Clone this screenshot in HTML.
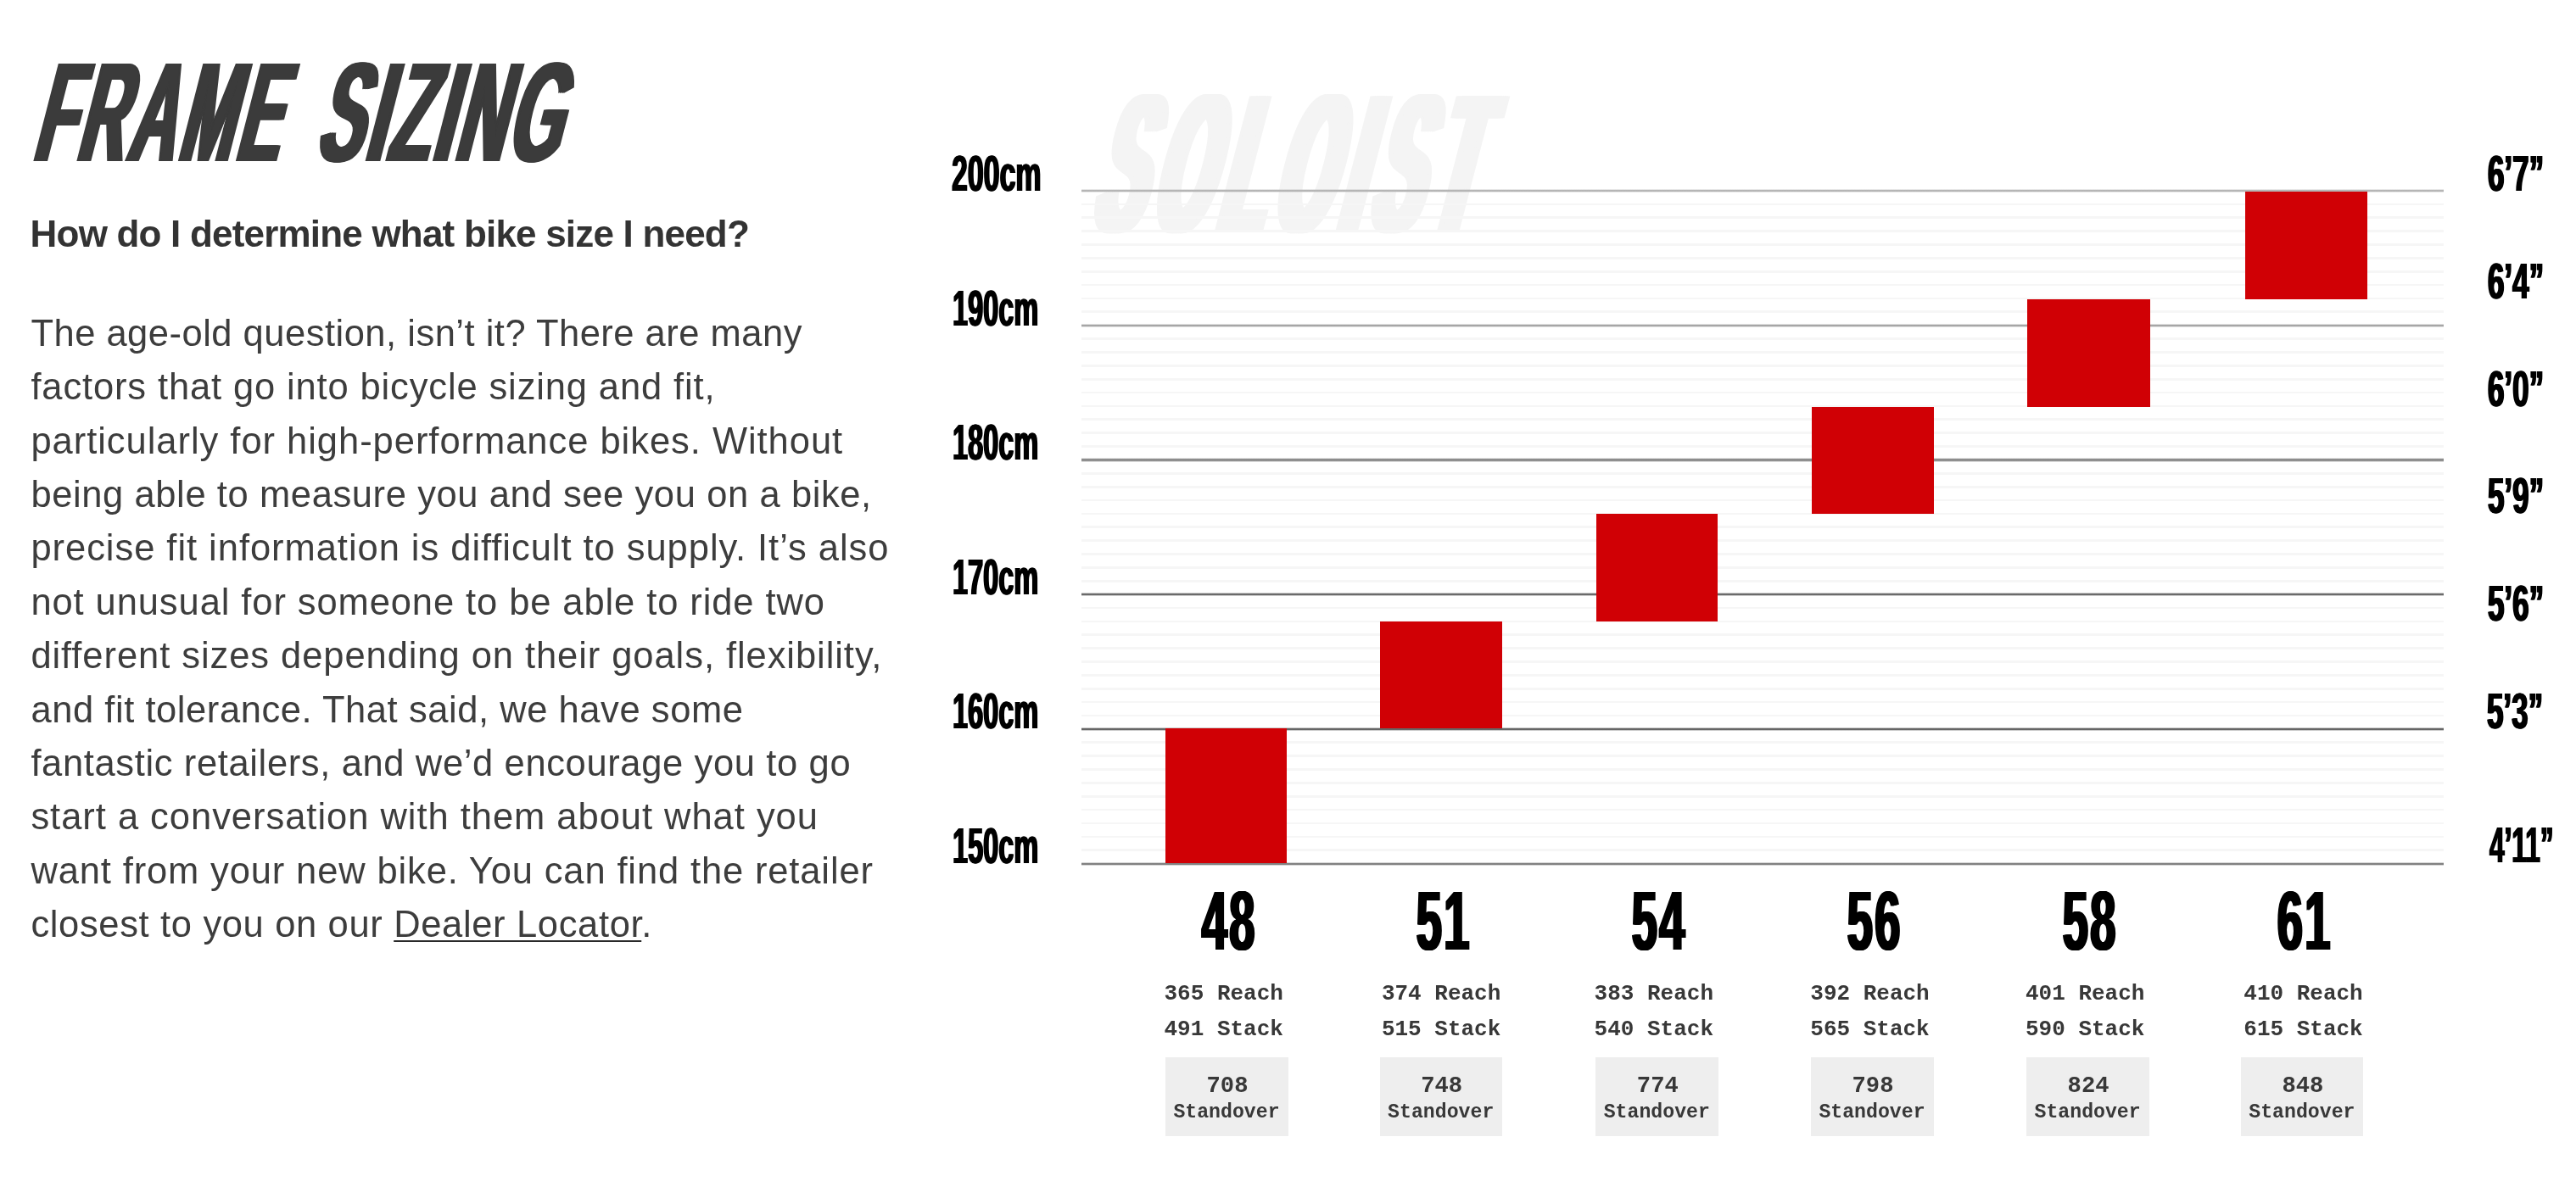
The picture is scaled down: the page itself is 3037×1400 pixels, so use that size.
<!DOCTYPE html>
<html lang="en"><head><meta charset="utf-8"><title>Frame Sizing</title>
<style>
html,body{margin:0;padding:0;background:#fff}
body{width:3037px;height:1400px;position:relative;overflow:hidden;font-family:"Liberation Sans",sans-serif}
.copy h1,.copy p{margin:0;padding:0;font-size:0;font-weight:normal}
.a{position:absolute;white-space:nowrap;line-height:1;margin:0;padding:0;display:block}
.c{font-weight:bold;transform-origin:0 0;color:#000}
.title{color:#3b3b3b}
.sub{font-weight:bold;color:#333}
.pl{color:#3d3d3d}
.pl a{color:inherit;text-decoration:underline;text-decoration-thickness:1.9px;text-underline-offset:4px;text-decoration-color:#2a2a2a}
.maj{position:absolute;left:1275.3px;width:1605.6px;height:4.4px}
.min{position:absolute;left:1275.3px;width:1605.6px;height:2.8px;background:#f6f6f6}
.bar{position:absolute;width:144.4px;height:127px;background:#d00005}
.m{font-family:"Liberation Mono",monospace;font-weight:bold;color:#383838}
.box{position:absolute;width:144.6px;height:93px;background:#eeeeee}
.wm{color:#f4f4f4}
</style></head><body>
<div id="page" style="position:absolute;left:0;top:0;width:3037px;height:1400px;filter:blur(0.65px)">

<section class="copy">
<h1>
<span class="a c title" style="left:36.5px;top:48.6px;font-size:167px;transform-origin:0 84.65%;transform:skewX(-14.4deg) scaleX(0.455);letter-spacing:10.5px;text-shadow:3.2px 0 0 #3b3b3b,-3.2px 0 0 #3b3b3b,6.4px 0 0 #3b3b3b,-6.4px 0 0 #3b3b3b;">FRAME</span>
<span class="a c title" style="left:371.0px;top:48.6px;font-size:167px;transform-origin:0 84.65%;transform:skewX(-14.4deg) scaleX(0.477);letter-spacing:8.8px;text-shadow:3.2px 0 0 #3b3b3b,-3.2px 0 0 #3b3b3b,6.4px 0 0 #3b3b3b,-6.4px 0 0 #3b3b3b;">SIZING</span>
</h1>
<h2 class="a sub" style="left:35.6px;top:254.0px;font-size:44px;letter-spacing:-0.8px">How do I determine what bike size I need?</h2>
<p>
<span class="a pl" style="left:36.4px;top:371.9px;font-size:43.5px;letter-spacing:0.498px">The age-old question, isn’t it? There are many</span>
<span class="a pl" style="left:36.4px;top:435.2px;font-size:43.5px;letter-spacing:0.865px">factors that go into bicycle sizing and fit,</span>
<span class="a pl" style="left:36.4px;top:498.6px;font-size:43.5px;letter-spacing:0.964px">particularly for high-performance bikes. Without</span>
<span class="a pl" style="left:36.4px;top:562.0px;font-size:43.5px;letter-spacing:0.602px">being able to measure you and see you on a bike,</span>
<span class="a pl" style="left:36.4px;top:625.4px;font-size:43.5px;letter-spacing:0.957px">precise fit information is difficult to supply. It’s also</span>
<span class="a pl" style="left:36.4px;top:688.7px;font-size:43.5px;letter-spacing:0.907px">not unusual for someone to be able to ride two</span>
<span class="a pl" style="left:36.4px;top:752.1px;font-size:43.5px;letter-spacing:0.934px">different sizes depending on their goals, flexibility,</span>
<span class="a pl" style="left:36.4px;top:815.5px;font-size:43.5px;letter-spacing:0.561px">and fit tolerance. That said, we have some</span>
<span class="a pl" style="left:36.4px;top:878.8px;font-size:43.5px;letter-spacing:0.633px">fantastic retailers, and we’d encourage you to go</span>
<span class="a pl" style="left:36.4px;top:942.2px;font-size:43.5px;letter-spacing:0.968px">start a conversation with them about what you</span>
<span class="a pl" style="left:36.4px;top:1005.6px;font-size:43.5px;letter-spacing:0.863px">want from your new bike. You can find the retailer</span>
<span class="a pl" style="left:36.4px;top:1068.9px;font-size:43.5px;letter-spacing:0.650px">closest to you on our <a href="#dealer-locator">Dealer Locator</a>.</span>
</p>
</section>
<section class="chart">
<div class="a c wm" style="left:1285.5px;top:76.6px;font-size:232px;transform-origin:0 84.65%;transform:skewX(-14.5deg) scaleX(0.36);letter-spacing:37.0px;color:#f4f4f4;text-shadow:5px 0 0 #f4f4f4,-5px 0 0 #f4f4f4,10px 0 0 #f4f4f4,-10px 0 0 #f4f4f4,15px 0 0 #f4f4f4,-15px 0 0 #f4f4f4,20px 0 0 #f4f4f4,-20px 0 0 #f4f4f4;">SOLOIST</div>
<div class="min" style="top:239.5px"></div>
<div class="min" style="top:255.3px"></div>
<div class="min" style="top:271.2px"></div>
<div class="min" style="top:287.1px"></div>
<div class="min" style="top:303.0px"></div>
<div class="min" style="top:318.8px"></div>
<div class="min" style="top:334.7px"></div>
<div class="min" style="top:350.6px"></div>
<div class="min" style="top:366.4px"></div>
<div class="min" style="top:398.2px"></div>
<div class="min" style="top:414.1px"></div>
<div class="min" style="top:429.9px"></div>
<div class="min" style="top:445.8px"></div>
<div class="min" style="top:461.7px"></div>
<div class="min" style="top:477.6px"></div>
<div class="min" style="top:493.4px"></div>
<div class="min" style="top:509.3px"></div>
<div class="min" style="top:525.2px"></div>
<div class="min" style="top:556.9px"></div>
<div class="min" style="top:572.8px"></div>
<div class="min" style="top:588.7px"></div>
<div class="min" style="top:604.5px"></div>
<div class="min" style="top:620.4px"></div>
<div class="min" style="top:636.3px"></div>
<div class="min" style="top:652.1px"></div>
<div class="min" style="top:668.0px"></div>
<div class="min" style="top:683.9px"></div>
<div class="min" style="top:715.6px"></div>
<div class="min" style="top:731.5px"></div>
<div class="min" style="top:747.4px"></div>
<div class="min" style="top:763.2px"></div>
<div class="min" style="top:779.1px"></div>
<div class="min" style="top:795.0px"></div>
<div class="min" style="top:810.9px"></div>
<div class="min" style="top:826.7px"></div>
<div class="min" style="top:842.6px"></div>
<div class="min" style="top:874.4px"></div>
<div class="min" style="top:890.2px"></div>
<div class="min" style="top:906.1px"></div>
<div class="min" style="top:922.0px"></div>
<div class="min" style="top:937.8px"></div>
<div class="min" style="top:953.7px"></div>
<div class="min" style="top:969.6px"></div>
<div class="min" style="top:985.5px"></div>
<div class="min" style="top:1001.3px"></div>
<div class="maj" style="top:222.9px;background:linear-gradient(to bottom,rgba(181,181,181,0),rgb(181,181,181) 38%,rgb(181,181,181) 62%,rgba(181,181,181,0))"></div>
<div class="maj" style="top:381.7px;background:linear-gradient(to bottom,rgba(165,165,165,0),rgb(165,165,165) 38%,rgb(165,165,165) 62%,rgba(165,165,165,0))"></div>
<div class="maj" style="top:540.3px;background:linear-gradient(to bottom,rgba(126,126,126,0),rgb(126,126,126) 38%,rgb(126,126,126) 62%,rgba(126,126,126,0))"></div>
<div class="maj" style="top:699.1px;background:linear-gradient(to bottom,rgba(105,105,105,0),rgb(105,105,105) 38%,rgb(105,105,105) 62%,rgba(105,105,105,0))"></div>
<div class="maj" style="top:857.6px;background:linear-gradient(to bottom,rgba(100,100,100,0),rgb(100,100,100) 38%,rgb(100,100,100) 62%,rgba(100,100,100,0))"></div>
<div class="maj" style="top:1016.5px;background:linear-gradient(to bottom,rgba(128,128,128,0),rgb(128,128,128) 38%,rgb(128,128,128) 62%,rgba(128,128,128,0))"></div>
<div class="bar" style="left:1373.9px;top:858.9px;width:143.2px;height:159.4px"></div>
<div class="bar" style="left:1627.4px;top:733.2px;width:143.9px;height:125.7px"></div>
<div class="bar" style="left:1881.5px;top:606.1px;width:143.2px;height:127.1px"></div>
<div class="bar" style="left:2135.5px;top:479.7px;width:144.0px;height:126.4px"></div>
<div class="bar" style="left:2389.7px;top:352.9px;width:144.9px;height:126.8px"></div>
<div class="bar" style="left:2646.7px;top:226.1px;width:144.6px;height:126.8px"></div>
<div class="a c" style="left:1121.8px;top:175.9px;font-size:59px;transform-origin:0 84.65%;transform:scaleX(0.575);letter-spacing:0px;text-shadow:1.5px 0 0 #000,-1.5px 0 0 #000;">200cm</div>
<div class="a c" style="left:1122.6px;top:334.5px;font-size:59px;transform-origin:0 84.65%;transform:scaleX(0.551);letter-spacing:0px;text-shadow:1.5px 0 0 #000,-1.5px 0 0 #000;">190cm</div>
<div class="a c" style="left:1122.6px;top:493.1px;font-size:59px;transform-origin:0 84.65%;transform:scaleX(0.551);letter-spacing:0px;text-shadow:1.5px 0 0 #000,-1.5px 0 0 #000;">180cm</div>
<div class="a c" style="left:1122.6px;top:651.9px;font-size:59px;transform-origin:0 84.65%;transform:scaleX(0.551);letter-spacing:0px;text-shadow:1.5px 0 0 #000,-1.5px 0 0 #000;">170cm</div>
<div class="a c" style="left:1122.6px;top:810.4px;font-size:59px;transform-origin:0 84.65%;transform:scaleX(0.551);letter-spacing:0px;text-shadow:1.5px 0 0 #000,-1.5px 0 0 #000;">160cm</div>
<div class="a c" style="left:1122.6px;top:969.3px;font-size:59px;transform-origin:0 84.65%;transform:scaleX(0.551);letter-spacing:0px;text-shadow:1.5px 0 0 #000,-1.5px 0 0 #000;">150cm</div>
<div class="a c" style="left:2933.2px;top:176.1px;font-size:59px;transform-origin:0 84.65%;transform:scaleX(0.592);letter-spacing:0px;text-shadow:1.5px 0 0 #000,-1.5px 0 0 #000;">6’7”</div>
<div class="a c" style="left:2933.2px;top:302.8px;font-size:59px;transform-origin:0 84.65%;transform:scaleX(0.592);letter-spacing:0px;text-shadow:1.5px 0 0 #000,-1.5px 0 0 #000;">6’4”</div>
<div class="a c" style="left:2933.2px;top:430.0px;font-size:59px;transform-origin:0 84.65%;transform:scaleX(0.592);letter-spacing:0px;text-shadow:1.5px 0 0 #000,-1.5px 0 0 #000;">6’0”</div>
<div class="a c" style="left:2933.2px;top:556.0px;font-size:59px;transform-origin:0 84.65%;transform:scaleX(0.592);letter-spacing:0px;text-shadow:1.5px 0 0 #000,-1.5px 0 0 #000;">5’9”</div>
<div class="a c" style="left:2933.2px;top:682.5px;font-size:59px;transform-origin:0 84.65%;transform:scaleX(0.592);letter-spacing:0px;text-shadow:1.5px 0 0 #000,-1.5px 0 0 #000;">5’6”</div>
<div class="a c" style="left:2932.4px;top:810.1px;font-size:59px;transform-origin:0 84.65%;transform:scaleX(0.592);letter-spacing:0px;text-shadow:1.5px 0 0 #000,-1.5px 0 0 #000;">5’3”</div>
<div class="a c" style="left:2935.0px;top:968.3px;font-size:59px;transform-origin:0 84.65%;transform:scaleX(0.536);letter-spacing:0px;text-shadow:1.5px 0 0 #000,-1.5px 0 0 #000;">4’11”</div>
<div class="a c" style="left:1295.8px;top:1037.0px;font-size:98.5px;transform-origin:50% 84.65%;transform:scaleX(0.55);letter-spacing:4.2px;padding-left:4.2px;width:300px;text-align:center;text-shadow:1.4px 0 0 #000,-1.4px 0 0 #000,2.8px 0 0 #000,-2.8px 0 0 #000;">48</div>
<div class="a m " style="left:1372.5px;top:1159.3px;font-size:26px;">365 Reach</div>
<div class="a m " style="left:1372.5px;top:1201.1px;font-size:26px;">491 Stack</div>
<div class="box" style="left:1374.0px;top:1246.7px"></div>
<div class="a m " style="left:1297.0px;top:1266.7px;font-size:27.2px;width:300px;text-align:center">708</div>
<div class="a m " style="left:1296.0px;top:1301.4px;font-size:23.2px;width:300px;text-align:center">Standover</div>
<div class="a c" style="left:1548.5px;top:1037.0px;font-size:98.5px;transform-origin:50% 84.65%;transform:scaleX(0.55);letter-spacing:4.2px;padding-left:4.2px;width:300px;text-align:center;text-shadow:1.4px 0 0 #000,-1.4px 0 0 #000,2.8px 0 0 #000,-2.8px 0 0 #000;">51</div>
<div class="a m " style="left:1628.9px;top:1159.3px;font-size:26px;">374 Reach</div>
<div class="a m " style="left:1628.9px;top:1201.1px;font-size:26px;">515 Stack</div>
<div class="box" style="left:1626.7px;top:1246.7px"></div>
<div class="a m " style="left:1549.7px;top:1266.7px;font-size:27.2px;width:300px;text-align:center">748</div>
<div class="a m " style="left:1548.7px;top:1301.4px;font-size:23.2px;width:300px;text-align:center">Standover</div>
<div class="a c" style="left:1803.1px;top:1037.0px;font-size:98.5px;transform-origin:50% 84.65%;transform:scaleX(0.55);letter-spacing:4.2px;padding-left:4.2px;width:300px;text-align:center;text-shadow:1.4px 0 0 #000,-1.4px 0 0 #000,2.8px 0 0 #000,-2.8px 0 0 #000;">54</div>
<div class="a m " style="left:1879.6px;top:1159.3px;font-size:26px;">383 Reach</div>
<div class="a m " style="left:1879.6px;top:1201.1px;font-size:26px;">540 Stack</div>
<div class="box" style="left:1881.3px;top:1246.7px"></div>
<div class="a m " style="left:1804.3px;top:1266.7px;font-size:27.2px;width:300px;text-align:center">774</div>
<div class="a m " style="left:1803.3px;top:1301.4px;font-size:23.2px;width:300px;text-align:center">Standover</div>
<div class="a c" style="left:2056.8px;top:1037.0px;font-size:98.5px;transform-origin:50% 84.65%;transform:scaleX(0.55);letter-spacing:4.2px;padding-left:4.2px;width:300px;text-align:center;text-shadow:1.4px 0 0 #000,-1.4px 0 0 #000,2.8px 0 0 #000,-2.8px 0 0 #000;">56</div>
<div class="a m " style="left:2134.3px;top:1159.3px;font-size:26px;">392 Reach</div>
<div class="a m " style="left:2134.3px;top:1201.1px;font-size:26px;">565 Stack</div>
<div class="box" style="left:2135.0px;top:1246.7px"></div>
<div class="a m " style="left:2058.0px;top:1266.7px;font-size:27.2px;width:300px;text-align:center">798</div>
<div class="a m " style="left:2057.0px;top:1301.4px;font-size:23.2px;width:300px;text-align:center">Standover</div>
<div class="a c" style="left:2310.9px;top:1037.0px;font-size:98.5px;transform-origin:50% 84.65%;transform:scaleX(0.55);letter-spacing:4.2px;padding-left:4.2px;width:300px;text-align:center;text-shadow:1.4px 0 0 #000,-1.4px 0 0 #000,2.8px 0 0 #000,-2.8px 0 0 #000;">58</div>
<div class="a m " style="left:2388.0px;top:1159.3px;font-size:26px;">401 Reach</div>
<div class="a m " style="left:2388.0px;top:1201.1px;font-size:26px;">590 Stack</div>
<div class="box" style="left:2389.1px;top:1246.7px"></div>
<div class="a m " style="left:2312.1px;top:1266.7px;font-size:27.2px;width:300px;text-align:center">824</div>
<div class="a m " style="left:2311.1px;top:1301.4px;font-size:23.2px;width:300px;text-align:center">Standover</div>
<div class="a c" style="left:2563.7px;top:1037.0px;font-size:98.5px;transform-origin:50% 84.65%;transform:scaleX(0.55);letter-spacing:4.2px;padding-left:4.2px;width:300px;text-align:center;text-shadow:1.4px 0 0 #000,-1.4px 0 0 #000,2.8px 0 0 #000,-2.8px 0 0 #000;">61</div>
<div class="a m " style="left:2645.3px;top:1159.3px;font-size:26px;">410 Reach</div>
<div class="a m " style="left:2645.3px;top:1201.1px;font-size:26px;">615 Stack</div>
<div class="box" style="left:2641.9px;top:1246.7px"></div>
<div class="a m " style="left:2564.9px;top:1266.7px;font-size:27.2px;width:300px;text-align:center">848</div>
<div class="a m " style="left:2563.9px;top:1301.4px;font-size:23.2px;width:300px;text-align:center">Standover</div>
</section>
</div>
</body></html>
